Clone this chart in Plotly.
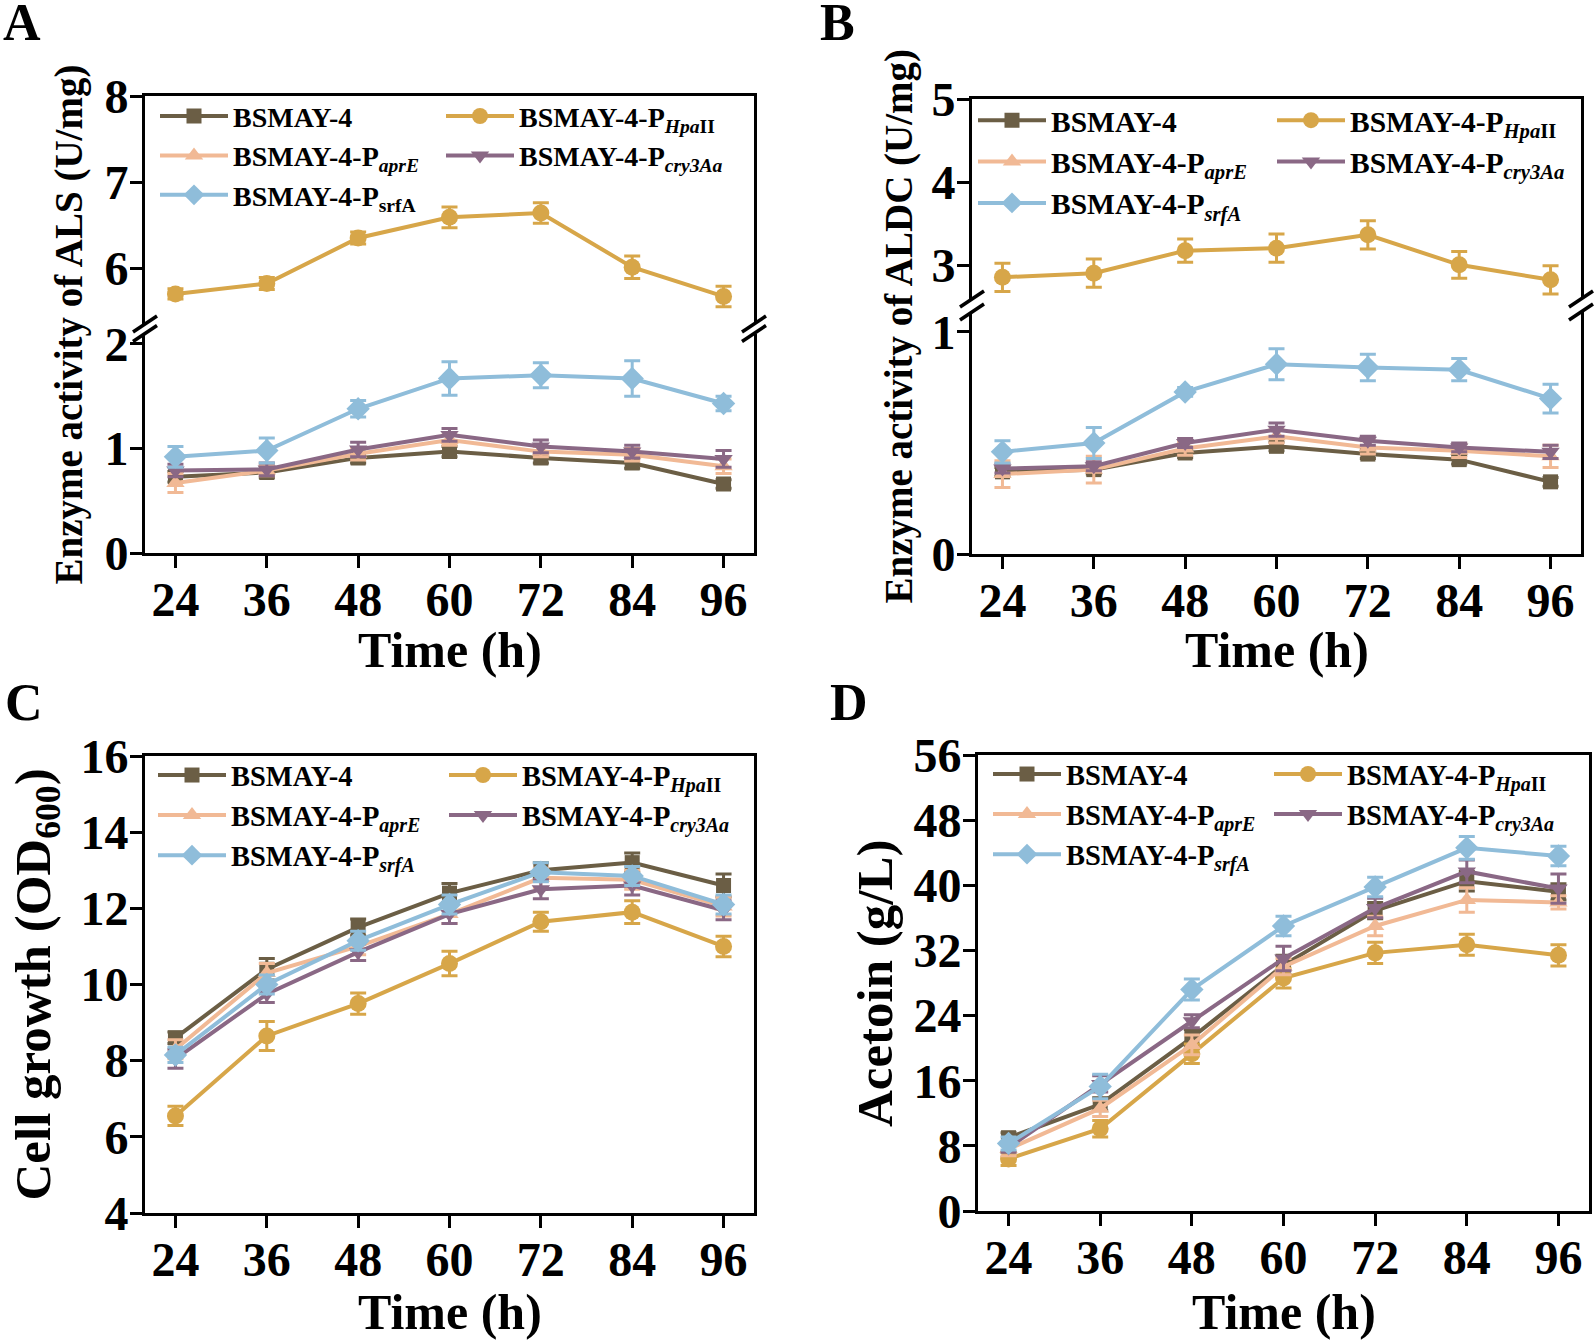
import plotly.graph_objects as go

W, H = 1594, 1344
FONT = "Liberation Serif, Times New Roman, serif"

# ---------------- data ----------------
time_h = [24, 36, 48, 60, 72, 84, 96]
x_tick_labels = ["24", "36", "48", "60", "72", "84", "96"]

strain_keys = ["BSMAY-4", "HpaII", "aprE", "cry3Aa", "srfA"]

# Panel A: ALS enzyme activity (U/mg)
als_bsmay4 = [0.73, 0.77, 0.91, 0.97, 0.91, 0.86, 0.66]
als_hpaii = [5.70, 5.82, 6.35, 6.59, 6.64, 6.01, 5.67]
als_apre = [0.67, 0.79, 0.95, 1.08, 0.97, 0.94, 0.83]
als_cry3aa = [0.79, 0.80, 0.99, 1.13, 1.02, 0.97, 0.90]
als_srfa = [0.92, 0.98, 1.38, 1.67, 1.70, 1.67, 1.43]
als_bsmay4_err = [0.05, 0.05, 0.05, 0.05, 0.05, 0.05, 0.04]
als_hpaii_err = [0.06, 0.07, 0.07, 0.12, 0.12, 0.13, 0.12]
als_apre_err = [0.09, 0.05, 0.06, 0.05, 0.05, 0.06, 0.07]
als_cry3aa_err = [0.06, 0.06, 0.07, 0.06, 0.06, 0.06, 0.08]
als_srfa_err = [0.10, 0.12, 0.08, 0.16, 0.12, 0.17, 0.07]

# Panel B: ALDC enzyme activity (U/mg)
aldc_bsmay4 = [0.37, 0.38, 0.455, 0.485, 0.45, 0.425, 0.325]
aldc_hpaii = [2.86, 2.91, 3.18, 3.21, 3.37, 3.01, 2.83]
aldc_apre = [0.36, 0.38, 0.475, 0.53, 0.48, 0.465, 0.44]
aldc_cry3aa = [0.385, 0.395, 0.50, 0.56, 0.51, 0.48, 0.46]
aldc_srfa = [0.46, 0.50, 0.73, 0.855, 0.84, 0.83, 0.70]
aldc_bsmay4_err = [0.02, 0.02, 0.02, 0.02, 0.02, 0.02, 0.02]
aldc_hpaii_err = [0.17, 0.17, 0.14, 0.17, 0.17, 0.16, 0.17]
aldc_apre_err = [0.06, 0.06, 0.03, 0.03, 0.03, 0.03, 0.05]
aldc_cry3aa_err = [0.02, 0.02, 0.02, 0.03, 0.02, 0.02, 0.03]
aldc_srfa_err = [0.05, 0.07, 0.02, 0.07, 0.06, 0.05, 0.065]

# Panel C: cell growth (OD600)
od_bsmay4 = [8.6, 10.4, 11.5, 12.4, 13.0, 13.2, 12.6]
od_hpaii = [6.55, 8.65, 9.5, 10.55, 11.65, 11.9, 11.0]
od_apre = [8.3, 10.3, 11.0, 11.85, 12.8, 12.75, 12.05]
od_cry3aa = [8.05, 9.75, 10.85, 11.85, 12.5, 12.6, 11.95]
od_srfa = [8.15, 10.0, 11.15, 12.1, 12.95, 12.85, 12.1]
od_bsmay4_err = [0.15, 0.28, 0.22, 0.25, 0.2, 0.25, 0.3]
od_hpaii_err = [0.25, 0.38, 0.28, 0.32, 0.25, 0.3, 0.27]
od_apre_err = [0.25, 0.25, 0.22, 0.25, 0.25, 0.25, 0.25]
od_cry3aa_err = [0.25, 0.22, 0.22, 0.25, 0.25, 0.25, 0.25]
od_srfa_err = [0.2, 0.25, 0.25, 0.25, 0.25, 0.25, 0.25]

# Panel D: acetoin (g/L)
acetoin_bsmay4 = [9.0, 13.1, 21.3, 30.2, 36.9, 40.5, 39.2]
acetoin_hpaii = [6.4, 10.1, 19.3, 28.6, 31.7, 32.7, 31.4]
acetoin_apre = [7.6, 12.6, 20.4, 30.0, 35.0, 38.2, 37.9]
acetoin_cry3aa = [7.8, 15.6, 23.3, 31.0, 37.2, 41.7, 39.6]
acetoin_srfa = [8.3, 15.3, 27.2, 35.0, 39.8, 44.6, 43.6]
acetoin_bsmay4_err = [0.6, 0.8, 1.0, 1.2, 1.0, 1.2, 1.0]
acetoin_hpaii_err = [0.8, 1.0, 1.2, 1.2, 1.3, 1.3, 1.3]
acetoin_apre_err = [0.8, 1.0, 1.2, 1.0, 1.2, 1.5, 0.8]
acetoin_cry3aa_err = [0.6, 1.0, 0.8, 1.5, 1.2, 1.4, 1.8]
acetoin_srfa_err = [0.8, 1.5, 1.3, 1.2, 1.2, 1.4, 1.2]

names_a = ["BSMAY-4", "BSMAY-4-P<sub><i>Hpa</i>II</sub>", "BSMAY-4-P<sub><i>aprE</i></sub>",
           "BSMAY-4-P<sub><i>cry3Aa</i></sub>", "BSMAY-4-P<sub>srfA</sub>"]
names_bcd = ["BSMAY-4", "BSMAY-4-P<sub><i>Hpa</i>II</sub>", "BSMAY-4-P<sub><i>aprE</i></sub>",
             "BSMAY-4-P<sub><i>cry3Aa</i></sub>", "BSMAY-4-P<sub><i>srfA</i></sub>"]

# ---------------- styles ----------------
colors = {"BSMAY-4": "#6B5E45", "HpaII": "#D7A649", "aprE": "#F1B995",
          "cry3Aa": "#8A6885", "srfA": "#8FBDDA"}
symbols = {"BSMAY-4": "square", "HpaII": "circle", "aprE": "triangle-up",
           "cry3Aa": "triangle-down", "srfA": "diamond"}
msize = {"BSMAY-4": 15, "HpaII": 17, "aprE": 16, "cry3Aa": 16, "srfA": 18}


def px_x(p):
    return p / W


def px_y(p):
    return 1 - p / H


fig = go.Figure()

panels = [
    dict(vals=[als_bsmay4, als_hpaii, als_apre, als_cry3aa, als_srfa],
         errs=[als_bsmay4_err, als_hpaii_err, als_apre_err, als_cry3aa_err, als_srfa_err],
         names=names_a, low=("x", "y"), up=("x2", "y2"), legs=("legend", "legend2")),
    dict(vals=[aldc_bsmay4, aldc_hpaii, aldc_apre, aldc_cry3aa, aldc_srfa],
         errs=[aldc_bsmay4_err, aldc_hpaii_err, aldc_apre_err, aldc_cry3aa_err, aldc_srfa_err],
         names=names_bcd, low=("x3", "y3"), up=("x4", "y4"), legs=("legend3", "legend4")),
    dict(vals=[od_bsmay4, od_hpaii, od_apre, od_cry3aa, od_srfa],
         errs=[od_bsmay4_err, od_hpaii_err, od_apre_err, od_cry3aa_err, od_srfa_err],
         names=names_bcd, low=("x5", "y5"), up=("x5", "y5"), legs=("legend5", "legend6")),
    dict(vals=[acetoin_bsmay4, acetoin_hpaii, acetoin_apre, acetoin_cry3aa, acetoin_srfa],
         errs=[acetoin_bsmay4_err, acetoin_hpaii_err, acetoin_apre_err, acetoin_cry3aa_err, acetoin_srfa_err],
         names=names_bcd, low=("x6", "y6"), up=("x6", "y6"), legs=("legend7", "legend8")),
]

col_of = {"BSMAY-4": 0, "aprE": 0, "srfA": 0, "HpaII": 1, "cry3Aa": 1}

for p in panels:
    for i, key in enumerate(strain_keys):
        xa, ya = p["up"] if key == "HpaII" else p["low"]
        fig.add_trace(go.Scatter(
            x=time_h, y=p["vals"][i], name=p["names"][i], mode="lines+markers",
            xaxis=xa, yaxis=ya, legend=p["legs"][col_of[key]],
            line=dict(color=colors[key], width=4),
            marker=dict(symbol=symbols[key], size=msize[key], color=colors[key]),
            error_y=dict(type="data", array=p["errs"][i], color=colors[key],
                         thickness=3, width=8),
            showlegend=True,
        ))

tickfont = dict(family=FONT, size=48, color="black", weight="bold")
base_axis = dict(showline=True, linewidth=3, linecolor="black", ticks="outside",
                 ticklen=12, tickwidth=3, tickcolor="black", showgrid=False,
                 zeroline=False, tickfont=tickfont, automargin=False)
x_axis = dict(base_axis, ticklabelstandoff=-10)
y_axis = dict(base_axis, ticklabelstandoff=-8)

# frames (px)
A = dict(l=145, r=754, up=(96, 324), low=(333.5, 553))
B = dict(l=972, r=1581, up=(99, 299), low=(312, 554))
C = dict(l=145, r=754, t=756, b=1213)
D = dict(l=978, r=1589, t=755, b=1211)

layout_axes = {}
# Panel A
layout_axes["xaxis"] = dict(x_axis, domain=[px_x(A["l"]), px_x(A["r"])], range=[20, 100],
                            tickvals=time_h, ticktext=x_tick_labels, anchor="y")
layout_axes["yaxis"] = dict(y_axis, domain=[px_y(A["low"][1]), px_y(A["low"][0])],
                            range=[0, 2.1], tickvals=[0, 1, 2], mirror=True, anchor="x")
layout_axes["xaxis2"] = dict(showline=True, linewidth=3, linecolor="black", matches="x",
                             domain=[px_x(A["l"]), px_x(A["r"])], range=[20, 100],
                             side="top", anchor="y2", ticks="", showticklabels=False,
                             showgrid=False, zeroline=False)
layout_axes["yaxis2"] = dict(y_axis, domain=[px_y(A["up"][1]), px_y(A["up"][0])],
                             range=[5.35, 8], tickvals=[6, 7, 8], mirror=True, anchor="x2")
# Panel B
layout_axes["xaxis3"] = dict(x_axis, domain=[px_x(B["l"]), px_x(B["r"])], range=[20, 100],
                             tickvals=time_h, ticktext=x_tick_labels, anchor="y3")
layout_axes["yaxis3"] = dict(y_axis, domain=[px_y(B["low"][1]), px_y(B["low"][0])],
                             range=[0, 1.09], tickvals=[0, 1], mirror=True, anchor="x3")
layout_axes["xaxis4"] = dict(showline=True, linewidth=3, linecolor="black", matches="x3",
                             domain=[px_x(B["l"]), px_x(B["r"])], range=[20, 100],
                             side="top", anchor="y4", ticks="", showticklabels=False,
                             showgrid=False, zeroline=False)
layout_axes["yaxis4"] = dict(y_axis, domain=[px_y(B["up"][1]), px_y(B["up"][0])],
                             range=[2.6, 5], tickvals=[3, 4, 5], mirror=True, anchor="x4")
# Panel C
layout_axes["xaxis5"] = dict(x_axis, domain=[px_x(C["l"]), px_x(C["r"])], range=[20, 100],
                             tickvals=time_h, ticktext=x_tick_labels, anchor="y5", mirror=True)
layout_axes["yaxis5"] = dict(y_axis, domain=[px_y(C["b"]), px_y(C["t"])], range=[4, 16],
                             tickvals=[4, 6, 8, 10, 12, 14, 16], mirror=True, anchor="x5")
# Panel D
layout_axes["xaxis6"] = dict(x_axis, domain=[px_x(D["l"]), px_x(D["r"])], range=[20, 100],
                             tickvals=time_h, ticktext=x_tick_labels, anchor="y6", mirror=True)
layout_axes["yaxis6"] = dict(y_axis, domain=[px_y(D["b"]), px_y(D["t"])], range=[0, 56],
                             tickvals=[0, 8, 16, 24, 32, 40, 48, 56], mirror=True, anchor="x6")


def make_legend(left, top, size):
    return dict(x=px_x(left), y=px_y(top), xanchor="left", yanchor="top",
                orientation="v", bgcolor="rgba(0,0,0,0)", borderwidth=0,
                itemwidth=68, tracegroupgap=0,
                font=dict(family=FONT, size=size, color="black", weight="bold"))


legends = {
    "legend": make_legend(155, 91.3, 28),
    "legend2": make_legend(441, 91.3, 28),
    "legend3": make_legend(973, 94.5, 29.5),
    "legend4": make_legend(1272, 94.5, 29.5),
    "legend5": make_legend(153, 750, 28.5),
    "legend6": make_legend(444, 750, 28.5),
    "legend7": make_legend(988, 749, 28.5),
    "legend8": make_legend(1269, 749, 28.5),
}

# axis-break marks
shapes = []
for frame in (A, B):
    for xp in (frame["l"], frame["r"]):
        for yp in (frame["up"][1], frame["low"][0]):
            shapes.append(dict(type="line", xref="paper", yref="paper",
                               x0=px_x(xp - 12), y0=px_y(yp + 8),
                               x1=px_x(xp + 12), y1=px_y(yp - 8),
                               line=dict(color="black", width=3.5)))

annotations = []


def add_text(text, xp, yp, size, angle=0, xanchor="center"):
    annotations.append(dict(text=text, x=px_x(xp), y=px_y(yp), xref="paper", yref="paper",
                            showarrow=False, textangle=angle, xanchor=xanchor, yanchor="middle",
                            font=dict(family=FONT, size=size, color="black", weight="bold")))


add_text("A", 1, 22, 52, xanchor="left")
add_text("B", 818, 22, 52, xanchor="left")
add_text("C", 3, 702, 52, xanchor="left")
add_text("D", 828, 702, 52, xanchor="left")
add_text("Time (h)", (A["l"] + A["r"]) / 2, 650, 50)
add_text("Time (h)", (B["l"] + B["r"]) / 2, 650, 50)
add_text("Time (h)", (C["l"] + C["r"]) / 2, 1312, 50)
add_text("Time (h)", (D["l"] + D["r"]) / 2, 1312, 50)
add_text("Enzyme activity of ALS (U/mg)", 69, (A["up"][0] + A["low"][1]) / 2, 39, angle=-90)
add_text("Enzyme activity of ALDC (U/mg)", 898, (B["up"][0] + B["low"][1]) / 2, 39, angle=-90)
add_text("Cell growth (OD<sub>600</sub>)", 36, (C["t"] + C["b"]) / 2, 51, angle=-90)
add_text("Acetoin (g/L)", 875, (D["t"] + D["b"]) / 2, 51, angle=-90)

fig.update_layout(
    width=W, height=H, autosize=False,
    margin=dict(l=0, r=0, t=0, b=0, pad=0, autoexpand=False),
    paper_bgcolor="white", plot_bgcolor="rgba(0,0,0,0)",
    font=dict(family=FONT, color="black"),
    shapes=shapes, annotations=annotations,
    **layout_axes, **legends,
)

fig.write_html("out.html", config={"displayModeBar": False},
               post_script="document.body.style.margin='0';")
